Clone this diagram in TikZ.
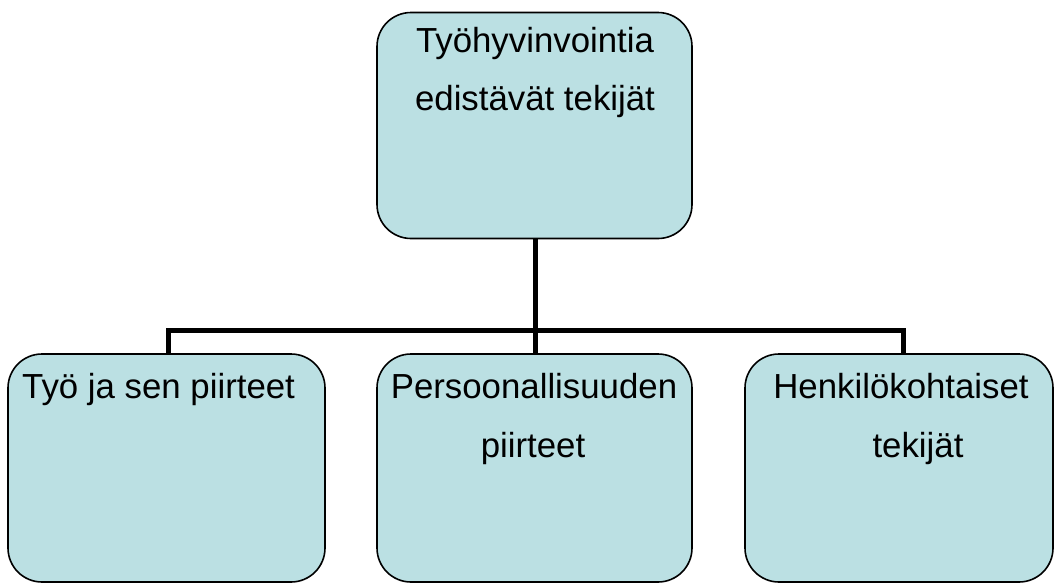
\documentclass[tikz,border=0pt]{standalone}
\usepackage{fontspec}
\setmainfont{Liberation Sans}
\definecolor{boxfill}{RGB}{187,224,227}
\tikzset{
  box/.style={draw=black, fill=boxfill, line width=1.6pt, rounded corners=34pt,
    inner sep=0pt, minimum height=226pt},
  lbl/.style={anchor=base, inner sep=0pt, font=\fontsize{34.8}{40}\selectfont},
  conn/.style={draw=black, line width=5pt, line join=miter}
}
\begin{document}
\begin{tikzpicture}[x=1pt,y=-1pt]
\useasboundingbox (0,0) rectangle (1055,584);
% boxes
\node[box, minimum width=315pt] (top) at (534.5,125.5) {};
\node[box, minimum width=317pt, minimum height=228pt] (left) at (166.5,468) {};
\node[box, minimum width=315pt, minimum height=228pt] (mid) at (534.5,468) {};
\node[box, minimum width=308pt, minimum height=228pt] (right) at (899,468) {};
% connectors
\coordinate (hub) at (535,330);
\coordinate (lt) at (168,354);
\coordinate (rt) at (903,354);
\draw[conn] (top.south -| hub) -- (hub);
\draw[conn] (lt) |- (hub) -| (rt);
\draw[conn] (hub) -- (hub |- mid.north);
% labels
\node[lbl] (t1) at (535,52) {Työhyvinvointia};
\node[lbl] (t2) at (535,110) {edistävät tekijät};
\node[lbl, anchor=base west] (l1) at (22,398) {Työ ja sen piirteet};
\node[lbl] (m1) at (534,398) {Persoonallisuuden};
\node[lbl] (m2) at (533,457) {piirteet};
\node[lbl] (r1) at (901,398) {Henkilökohtaiset};
\node[lbl] (r2) at (918,457) {tekijät};
\end{tikzpicture}
\end{document}
